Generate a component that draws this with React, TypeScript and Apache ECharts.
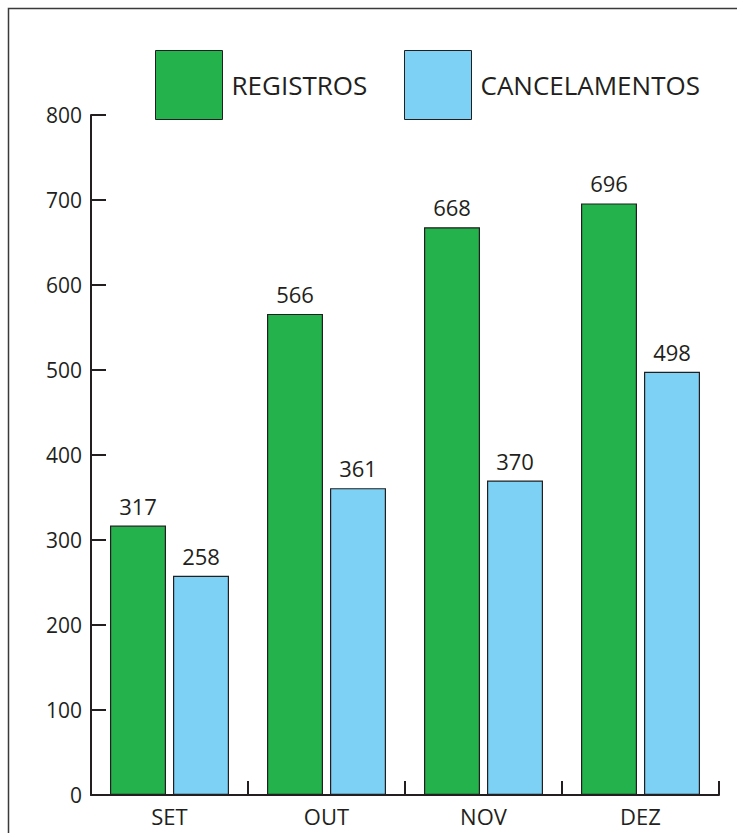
import React, { useEffect, useRef } from "react";
import * as echarts from "echarts";

const categories = ["SET", "OUT", "NOV", "DEZ"];
const registros = [317, 566, 668, 696];
const cancelamentos = [258, 361, 370, 498];
const yTicks = [0, 100, 200, 300, 400, 500, 600, 700, 800];

const FONT = "'Open Sans', 'Noto Sans', sans-serif";
const GREEN = "#23b24b";
const BLUE = "#7dd1f4";
const INK = "#231f20";

export default function App() {
  const ref = useRef<HTMLDivElement>(null);
  useEffect(() => {
    if (!ref.current) return;
    const chart = echarts.init(ref.current, undefined, { renderer: "svg" });
    const legendCommon = {
      top: 50,
      padding: 0,
      itemWidth: 67,
      itemHeight: 69,
      icon: "rect",
      itemStyle: { borderColor: INK, borderWidth: 1 },
      textStyle: {
        fontFamily: FONT,
        fontSize: 26,
        color: INK,
        padding: [0, 0, 0, 4],
      },
      selectedMode: false,
    };
    chart.setOption({
      animation: false,
      backgroundColor: "#ffffff",
      textStyle: { fontFamily: FONT },
      legend: [
        { ...legendCommon, left: 155, data: ["REGISTROS"] },
        { ...legendCommon, left: 404, data: ["CANCELAMENTOS"] },
      ],
      grid: { left: 91, right: 18, top: 115, bottom: 38, containLabel: false },
      xAxis: {
        type: "category",
        data: categories,
        axisLine: { show: true, lineStyle: { color: INK, width: 2 } },
        axisTick: {
          show: true,
          inside: true,
          length: 14,
          alignWithLabel: false,
          lineStyle: { color: INK, width: 2 },
        },
        axisLabel: { color: INK, fontSize: 22, fontFamily: FONT, margin: 10 },
        splitLine: { show: false },
      },
      yAxis: {
        type: "value",
        min: 0,
        max: 800,
        interval: 100,
        axisLine: { show: true, lineStyle: { color: INK, width: 2 } },
        axisTick: {
          show: true,
          inside: true,
          length: 15,
          lineStyle: { color: INK, width: 2 },
        },
        axisLabel: {
          color: INK,
          fontSize: 21,
          fontFamily: FONT,
          margin: 9,
          formatter: (v: number) => (yTicks.includes(v) ? String(v) : ""),
        },
        splitLine: { show: false },
      },
      series: [
        {
          name: "REGISTROS",
          type: "bar",
          data: registros,
          barWidth: 56,
          barGap: "12.5%",
          itemStyle: { color: GREEN, borderColor: INK, borderWidth: 1.2 },
          label: {
            show: true,
            position: "top",
            distance: 9,
            color: INK,
            fontSize: 22,
            fontFamily: FONT,
          },
        },
        {
          name: "CANCELAMENTOS",
          type: "bar",
          data: cancelamentos,
          barWidth: 56,
          barGap: "12.5%",
          itemStyle: { color: BLUE, borderColor: INK, borderWidth: 1.2 },
          label: {
            show: true,
            position: "top",
            distance: 9,
            color: INK,
            fontSize: 22,
            fontFamily: FONT,
          },
        },
      ],
      graphic: [
        {
          type: "rect",
          shape: { x: 8.5, y: 8.5, width: 800, height: 900 },
          style: { fill: "none", stroke: "#3a3a3a", lineWidth: 1.5 },
          silent: true,
        },
      ],
    });
    return () => chart.dispose();
  }, []);
  return (
    <div
      ref={ref}
      style={{ position: "absolute", left: 0, top: 0, width: 737, height: 833 }}
    />
  );
}
